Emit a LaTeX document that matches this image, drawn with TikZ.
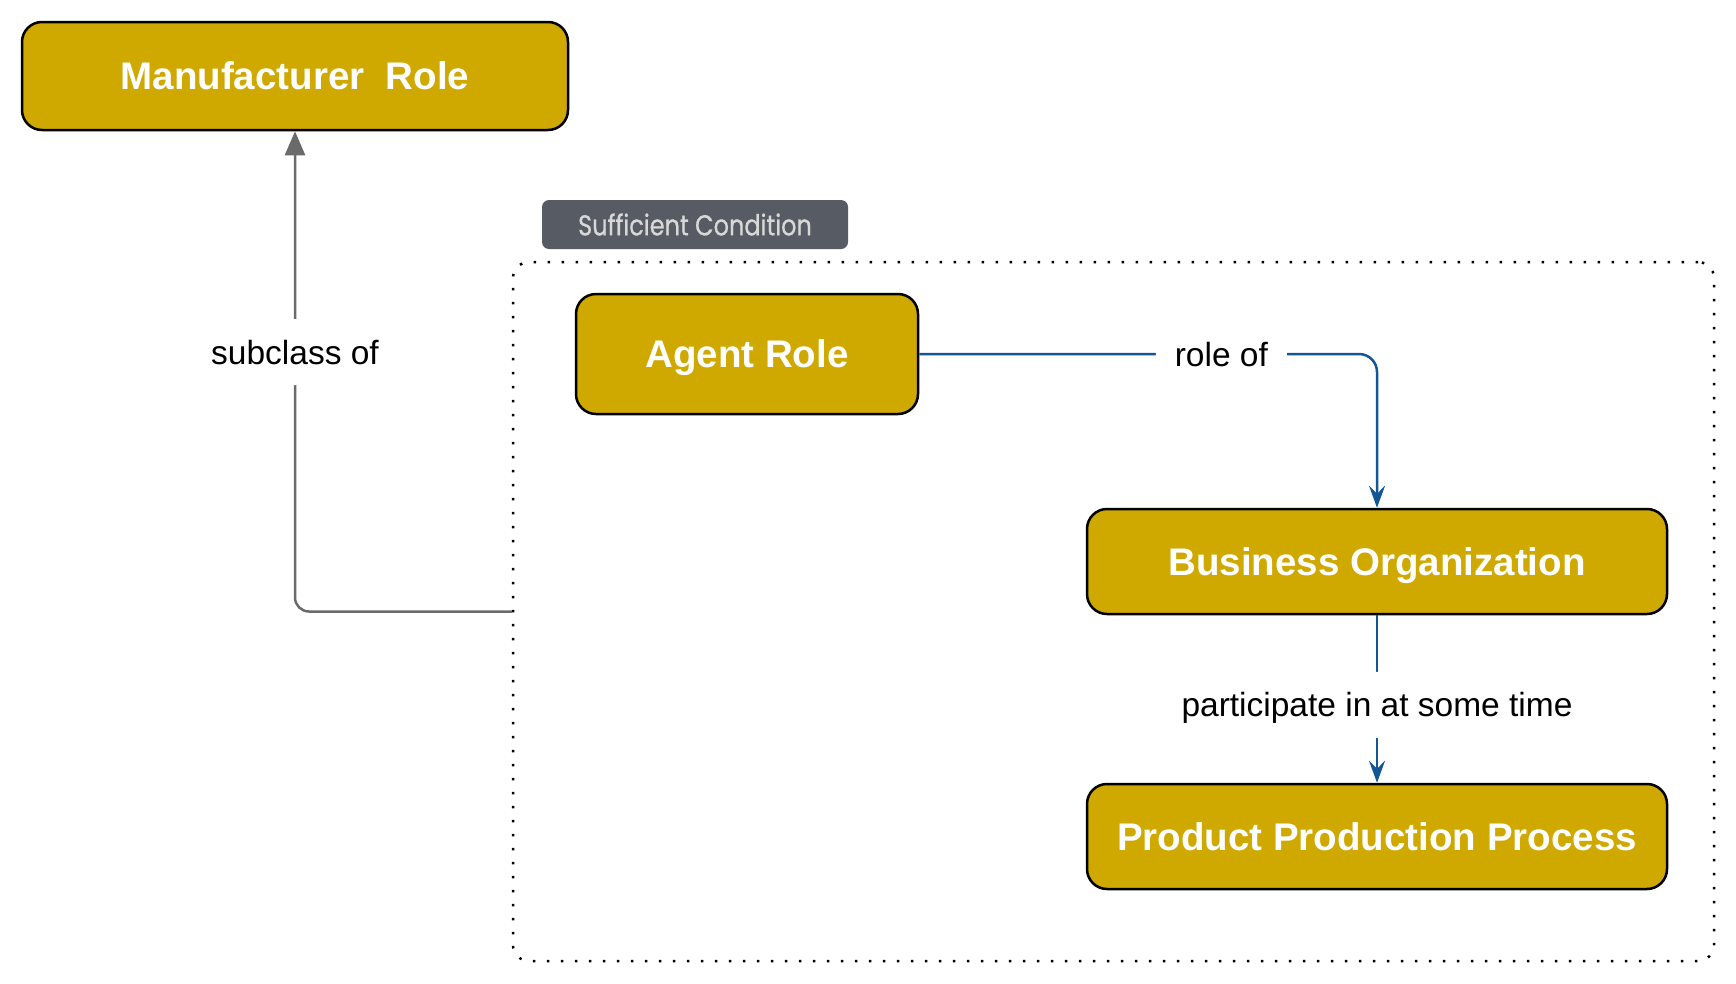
\documentclass[tikz,border=0pt]{standalone}
\usepackage{fontspec}
\setmainfont{Liberation Sans}
\newfontfamily\tabfont{Poppins}[FakeBold=0.7]
\usetikzlibrary{arrows.meta}
\definecolor{gold}{RGB}{207,168,0}
\definecolor{relblue}{RGB}{18,86,150}
\definecolor{subgrey}{RGB}{106,106,106}
\definecolor{tabbg}{RGB}{86,91,100}
\definecolor{tabtxt}{RGB}{216,216,216}
\tikzset{
  cls/.style={draw=black, line width=2.5pt, fill=gold, rounded corners=20pt,
    text=white, font=\fontsize{38.5}{40}\selectfont\bfseries, inner sep=0pt, align=center,
    text height=27pt, text depth=0pt},
  lbl/.style={fill=white, text=black, font=\fontsize{33.5}{36}\selectfont,
    inner xsep=19pt, inner ysep=21pt, text height=24pt, text depth=0pt},
  rel/.style={draw=relblue, line width=2.5pt, rounded corners=18pt,
    -{Stealth[length=22pt, width=16pt, inset=8pt]}},
  subc/.style={draw=subgrey, line width=2.5pt, rounded corners=14pt,
    -{Triangle[length=24pt, width=20pt]}},
  condbox/.style={draw=black, line width=2.5pt, dash pattern=on 2.5pt off 11.5pt,
    rounded corners=16pt, inner sep=0pt},
  tab/.style={fill=tabbg, rounded corners=7pt, text=tabtxt,
    font=\tabfont\fontsize{24}{26}\selectfont, inner sep=0pt}
}
\begin{document}
\begin{tikzpicture}[x=1pt, y=-1pt]
\useasboundingbox (0,0) rectangle (1736,983);
\node[condbox, minimum width=1201pt, minimum height=699pt] (cond) at (1113.5,611.5) {};
\node[tab, minimum width=306pt, minimum height=49pt] (suff) at (695,224.5) {\scalebox{1}[1.2]{Sufficient Condition}};
\node[cls, minimum width=546pt, minimum height=108pt] (mr) at (295,76) {Manufacturer\ \ Role};
\node[cls, minimum width=342pt, minimum height=120pt] (ar) at (747,354) {Agent Role};
\node[cls, minimum width=580pt, minimum height=105pt] (bo) at (1377,561.5) {Business Organization};
\node[cls, minimum width=580pt, minimum height=105pt] (ppp) at (1377,836.5) {Product Production Process};
\draw[subc] (cond.west) -| node[lbl, pos=0.77] (lsub) {subclass of} (mr.south);
\draw[rel] (ar.east) -| node[lbl, pos=0.33] (lrole) {role of} (bo.north);
\draw[rel] (bo.south) -- node[lbl, pos=0.535] (lpart) {participate in at some time} (ppp.north);
\end{tikzpicture}
\end{document}
